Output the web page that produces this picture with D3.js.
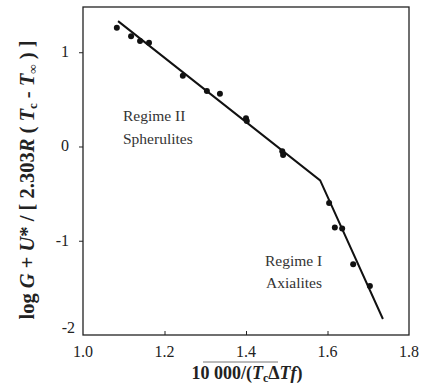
<!DOCTYPE html>
<html><head><meta charset="utf-8">
<script src="https://cdn.jsdelivr.net/npm/d3@7"></script>
<style>
body{margin:0;background:#fff;}
svg text{font-family:"Liberation Serif","DejaVu Serif",serif;}
</style></head>
<body><svg id="c" width="423" height="388"></svg>
<script>
const pointX = [1.083,1.118,1.140,1.162,1.245,1.304,1.336,1.400,1.402,1.489,1.491,1.604,1.618,1.636,1.663,1.704];
const pointY = [1.26,1.17,1.12,1.10,0.75,0.59,0.56,0.30,0.27,-0.05,-0.09,-0.60,-0.86,-0.87,-1.25,-1.48];
const fitX = [1.086,1.582,1.736];
const fitY = [1.33,-0.36,-1.83];
const xTicks = [1.0,1.2,1.4,1.6,1.8];
const xTickLabels = ["1.0","1.2","1.4","1.6","1.8"];
const yTicks = [1,0,-1];
const yTickLabels = ["1","0","-1"];

const svg = d3.select("#c");
const L=83,R=409,T=7,B=335;
const x = d3.scaleLinear().domain([1.0,1.8]).range([L,R]);
const y = d3.scaleLinear().domain([-2,1.48]).range([B,T]);

svg.append("rect").attr("x",L).attr("y",T).attr("width",R-L).attr("height",B-T)
  .attr("fill","none").attr("stroke","#222").attr("stroke-width",1.3);

const xa = svg.append("g").attr("transform",`translate(0,${B})`)
  .call(d3.axisBottom(x).tickValues(xTicks.slice(1,4)).tickSize(-4).tickFormat(""));
xa.select(".domain").remove();
xa.selectAll("line").attr("stroke","#222");
svg.selectAll(".xl").data(xTicks).enter().append("text")
  .attr("x",d=>x(d)).attr("y",B+22).attr("text-anchor","middle")
  .attr("font-size",16).attr("fill","#222").text((d,i)=>xTickLabels[i]);

const ya = svg.append("g").attr("transform",`translate(${L},0)`)
  .call(d3.axisLeft(y).tickValues(yTicks).tickSize(4).tickFormat(""));
ya.select(".domain").remove();
ya.selectAll("line").attr("stroke","#222");
svg.selectAll(".yl").data(yTicks).enter().append("text")
  .attr("x",L-14).attr("y",d=>y(d)+5).attr("text-anchor","end")
  .attr("font-size",16).attr("fill","#222").text((d,i)=>yTickLabels[i]);
svg.append("text").attr("x",L-8).attr("y",y(-2)-2).attr("text-anchor","end")
  .attr("font-size",16).attr("fill","#222").text("-2");

const line = d3.line().x((d,i)=>x(fitX[i])).y((d,i)=>y(fitY[i]));
svg.append("path").datum(fitX).attr("d",line).attr("fill","none")
  .attr("stroke","#111").attr("stroke-width",2);

svg.selectAll(".pt").data(pointX).enter().append("circle")
  .attr("cx",d=>x(d)).attr("cy",(d,i)=>y(pointY[i])).attr("r",3).attr("fill","#111");

const ann = [["Regime II",123,121],["Spherulites",123,144],["Regime I",265,266],["Axialites",266,288]];
svg.selectAll(".ann").data(ann).enter().append("text")
  .attr("x",d=>d[1]).attr("y",d=>d[2]).attr("font-size",15.5).attr("fill","#333").text(d=>d[0]);

svg.append("line").attr("x1",203).attr("x2",278).attr("y1",362).attr("y2",362)
  .attr("stroke","#777").attr("stroke-width",1);
const xl = svg.append("text").attr("x",247).attr("y",379).attr("text-anchor","middle")
  .attr("font-size",18).attr("font-weight","bold").attr("fill","#222");
xl.append("tspan").text("10 000/(");
xl.append("tspan").attr("font-style","italic").text("T");
xl.append("tspan").attr("font-size",12).attr("dy",3).text("c");
xl.append("tspan").attr("dy",-3).text("Δ");
xl.append("tspan").attr("font-style","italic").text("Tf");
xl.append("tspan").text(")");

const yl = svg.append("text").attr("transform","translate(34,180) rotate(-90)")
  .attr("text-anchor","middle").attr("font-size",20.5).attr("font-weight","bold").attr("fill","#222");
yl.append("tspan").text("log ");
yl.append("tspan").attr("font-style","italic").text("G");
yl.append("tspan").text(" + ");
yl.append("tspan").attr("font-style","italic").text("U");
yl.append("tspan").text("* / [ 2.303");
yl.append("tspan").attr("font-style","italic").text("R");
yl.append("tspan").text(" ( ");
yl.append("tspan").attr("font-style","italic").text("T");
yl.append("tspan").attr("font-size",13).attr("dy",3).text("c");
yl.append("tspan").attr("dy",-3).text(" - ");
yl.append("tspan").attr("font-style","italic").text("T");
yl.append("tspan").attr("font-size",13).attr("dy",3).text("∞");
yl.append("tspan").attr("dy",-3).text(" ) ]");
</script></body></html>
